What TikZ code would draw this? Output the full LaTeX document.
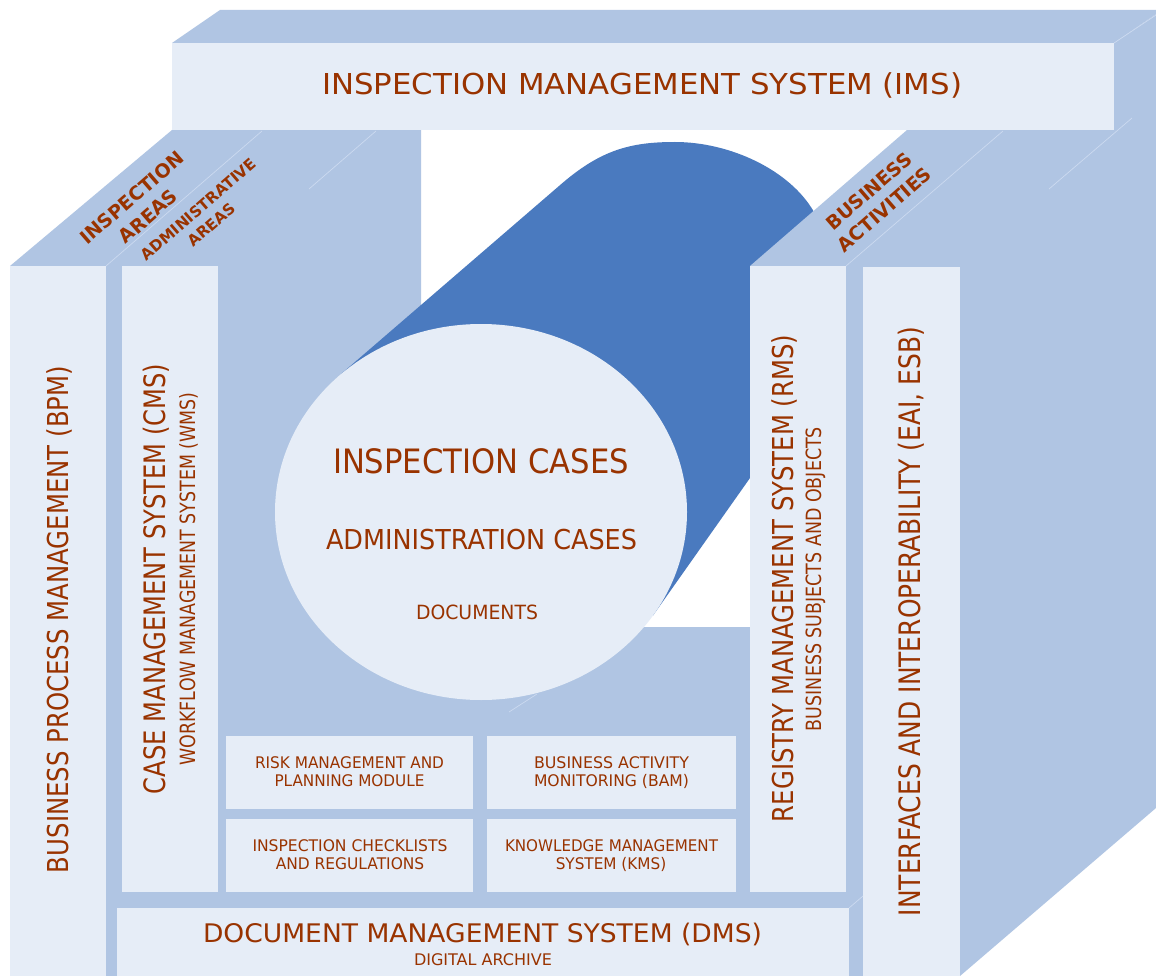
\documentclass[tikz,border=0pt]{standalone}
\usepackage{fontspec}
\setmainfont{DejaVu Sans}
\usepackage{graphicx}
\usetikzlibrary{shapes.geometric}
\definecolor{lightf}{HTML}{E6EDF7}
\definecolor{midb}{HTML}{B0C5E3}
\definecolor{darkb}{HTML}{4A7ABF}
\definecolor{txt}{HTML}{993300}
\definecolor{faint}{HTML}{CCDAF0}
\newcommand\fitx[2]{\resizebox{#1pt}{\height}{#2}}
\newcommand\fsz[1]{\fontsize{#1}{#1}\selectfont}
\begin{document}
\begin{tikzpicture}[x=1pt,y=-1pt,
  front/.style={fill=lightf, draw=none, inner sep=0pt, outer sep=0pt},
  lbl/.style={text=txt, inner sep=0pt, anchor=base},
  slant/.style={text=txt, inner sep=0pt, align=center, rotate=41, font=\bfseries},
  faintline/.style={draw=faint, line width=0.7pt}]
\useasboundingbox (0,0) rectangle (1156,976);
\fill[white] (0,0) rectangle (1156,976);
% back / left block
\fill[midb] (10,266) -- (172,130) -- (421,130) -- (421,627) -- (750,627) -- (750,976) -- (10,976) -- cycle;
% cylinder body
\fill[darkb] (341.5,373.6) -- (559,186) .. controls (600,150) and (630,142) .. (675,142)
  .. controls (730,142) and (790,170) .. (814,212) -- (870,300) -- (750,478) -- (653,615.5) -- (481,512) -- cycle;
\node[ellipse, front, minimum width=412pt, minimum height=376pt] (cases) at (481,512) {};
% right block
\fill[midb] (750,266) -- (907,130) -- (1114,130) -- (1114,43) -- (1156,14) -- (1156,808) -- (960,976) -- (750,976) -- cycle;
% top box
\fill[midb] (172,43) -- (220,10) -- (1156,10) -- (1156,14) -- (1114,43) -- cycle;
\node[front, minimum width=942pt, minimum height=87pt] (ims) at (643,86.5) {};
% pillars
\node[front, minimum width=96pt, minimum height=710pt] (bpm) at (58,621) {};
\node[front, minimum width=96pt, minimum height=626pt] (cms) at (170,579) {};
\node[front, minimum width=96pt, minimum height=626pt] (rms) at (798,579) {};
\node[front, minimum width=97pt, minimum height=709pt] (intf) at (911.5,621.5) {};
% modules
\node[front, minimum width=247pt, minimum height=73pt] (risk) at (349.5,772.5) {};
\node[front, minimum width=249pt, minimum height=73pt] (bam) at (611.5,772.5) {};
\node[front, minimum width=247pt, minimum height=73pt] (chk) at (349.5,855.5) {};
\node[front, minimum width=249pt, minimum height=73pt] (kms) at (611.5,855.5) {};
\node[front, minimum width=732pt, minimum height=68pt] (dms) at (483,942) {};
% faint edges
\draw[faintline] (106,266) -- (262,131);
\draw[faintline] (309,189) -- (376,131);
\draw[faintline] (846,266) -- (1003,131);
\draw[faintline] (1049,189) -- (1132,118);
\draw[faintline] (1114,43) -- (1156,15);
\draw[faintline] (509,712) -- (537,694);
\draw[faintline] (849,908) -- (863,896);
% texts
\node[lbl, font=\fsz{28.8}] (imst) at (642,95) {\fitx{640}{INSPECTION MANAGEMENT SYSTEM (IMS)}};
\node[lbl, font=\fsz{33.6}] (ct1) at (481,473.5) {\fitx{296}{INSPECTION CASES}};
\node[lbl, font=\fsz{27.4}] (ct2) at (481.5,549) {\fitx{311}{ADMINISTRATION CASES}};
\node[lbl, font=\fsz{19.6}] (ct3) at (477,619) {\fitx{122}{DOCUMENTS}};
\node[lbl, rotate=90, font=\fsz{28.8}] (bpmt) at (68,619.5) {\fitx{507}{BUSINESS PROCESS MANAGEMENT (BPM)}};
\node[lbl, rotate=90, font=\fsz{29.5}] (cmst) at (165,579) {\fitx{430}{CASE MANAGEMENT SYSTEM (CMS)}};
\node[lbl, rotate=90, font=\fsz{21}] (wmst) at (195,579) {\fitx{373}{WORKFLOW MANAGEMENT SYSTEM (WMS)}};
\node[lbl, rotate=90, font=\fsz{28.8}] (rmst) at (793,578.5) {\fitx{487}{REGISTRY MANAGEMENT SYSTEM (RMS)}};
\node[lbl, rotate=90, font=\fsz{21}] (bsot) at (821,579) {\fitx{304}{BUSINESS SUBJECTS AND OBJECTS}};
\node[lbl, rotate=90, font=\fsz{29.5}] (intt) at (920,621.5) {\fitx{589}{INTERFACES AND INTEROPERABILITY (EAI, ESB)}};
\node[lbl, font=\fsz{25.6}] (dmst) at (482.5,942.7) {\fitx{559}{DOCUMENT MANAGEMENT SYSTEM (DMS)}};
\node[lbl, font=\fsz{16}] (dat) at (483,965) {\fitx{138}{DIGITAL ARCHIVE}};
\node[lbl, font=\fsz{16}] (risk1) at (349.5,768.3) {\fitx{189}{RISK MANAGEMENT AND}};
\node[lbl, font=\fsz{16}] (risk2) at (349.5,786.7) {\fitx{150}{PLANNING MODULE}};
\node[lbl, font=\fsz{16}] (bam1) at (611.5,768.3) {\fitx{155}{BUSINESS ACTIVITY}};
\node[lbl, font=\fsz{16}] (bam2) at (611.5,786.7) {\fitx{155}{MONITORING (BAM)}};
\node[lbl, font=\fsz{16}] (chk1) at (350,851.7) {\fitx{195}{INSPECTION CHECKLISTS}};
\node[lbl, font=\fsz{16}] (chk2) at (350,869.3) {\fitx{148.5}{AND REGULATIONS}};
\node[lbl, font=\fsz{16}] (kms1) at (611.5,851.7) {\fitx{213}{KNOWLEDGE MANAGEMENT}};
\node[lbl, font=\fsz{16}] (kms2) at (611,869.3) {\fitx{110.5}{SYSTEM (KMS)}};
\node[slant, font=\bfseries\fontsize{19}{24.6}\selectfont] (insp) at (140,207) {INSPECTION\\AREAS};
\node[slant, font=\bfseries\fontsize{15.3}{20.4}\selectfont] (adm) at (205,217) {ADMINISTRATIVE\\AREAS};
\node[slant, font=\bfseries\fontsize{19}{23.9}\selectfont] (bus) at (876.7,200.4) {BUSINESS\\ACTIVITIES};
\end{tikzpicture}
\end{document}
